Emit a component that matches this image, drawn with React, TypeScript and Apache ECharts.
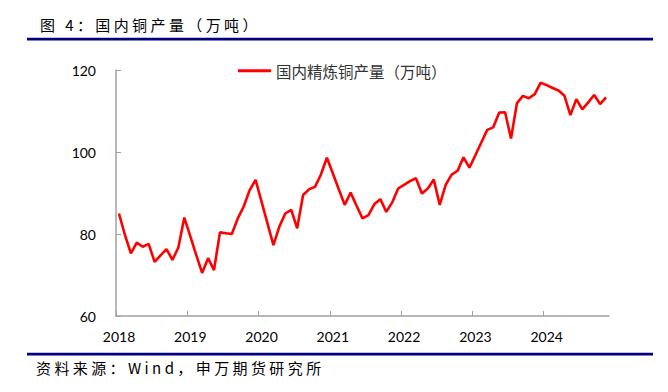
import React, { useEffect, useRef } from 'react';
import * as echarts from 'echarts';

// Monthly refined copper output, Jan 2018 – Nov 2024 (万吨)
const yearLabels = ['2018', '2019', '2020', '2021', '2022', '2023', '2024'];
const seriesName = '国内精炼铜产量（万吨）';
const production = [
  85.0, 79.8, 75.3, 77.9, 76.9, 77.6, 73.2, 74.8, 76.3, 73.7, 76.7, 84.0,
  79.5, 74.9, 70.5, 74.1, 71.2, 80.4, 80.2, 80.0, 83.8, 86.7, 90.7, 93.2,
  87.9, 82.6, 77.3, 81.8, 85.0, 85.9, 81.4, 89.5, 90.9, 91.5, 94.5, 98.6,
  94.8, 90.9, 87.1, 90.1, 86.9, 83.8, 84.6, 87.3, 88.5, 85.4, 87.7, 91.1,
  92.0, 92.9, 93.6, 89.9, 91.1, 93.3, 87.1, 92.0, 94.5, 95.4, 98.7, 96.2,
  99.2, 102.3, 105.4, 106.0, 109.6, 109.7, 103.3, 111.9, 113.7, 113.1, 114.1, 116.9,
  116.3, 115.6, 115.0, 113.7, 109.0, 112.9, 110.4, 112.1, 113.9, 111.7, 113.3,
];
const yMin = 60;
const yMax = 120;
const yStep = 20;
const titleText = '图 4：国内铜产量（万吨）';
const sourceText = '资料来源：Wind，申万期货研究所';

export default function App() {
  const ref = useRef<HTMLDivElement>(null);

  useEffect(() => {
    if (!ref.current) return;
    const chart = echarts.init(ref.current, null, { renderer: 'svg' });
    const months = 12;
    const lastMonth = production.length; // axis spans whole months
    const yearTicks = yearLabels.map((_, i) => i * months);
    chart.setOption({
      animation: false,
      backgroundColor: '#ffffff',
      grid: { left: 116, right: 59, top: 70, bottom: 76, containLabel: false },
      legend: {
        data: [seriesName],
        left: 233,
        top: 58,
        icon: 'rect',
        itemWidth: 33,
        itemHeight: 3,
        textStyle: { fontSize: 15.5, color: '#333333', fontFamily: 'Noto Sans CJK SC' },
      },
      xAxis: {
        type: 'value',
        min: 0,
        max: lastMonth,
        splitLine: { show: false },
        axisLine: { show: true, lineStyle: { color: '#a0a0a0', width: 1.5 } },
        axisTick: { show: true, inside: true, length: 5, customValues: yearTicks, lineStyle: { color: '#a0a0a0', width: 1 } },
        axisLabel: {
          customValues: yearTicks,
          formatter: (v: number) => yearLabels[Math.round(v / months)] ?? '',
          color: '#000000',
          fontSize: 14,
          fontFamily: 'Lato',
          margin: 13,
          padding: [0, 0, 0, 6],
        },
      },
      yAxis: {
        type: 'value',
        min: yMin,
        max: yMax,
        interval: yStep,
        splitLine: { show: false },
        axisLine: { show: true, lineStyle: { color: '#a0a0a0', width: 1.5 } },
        axisTick: { show: true, inside: true, length: 5, lineStyle: { color: '#a0a0a0', width: 1 } },
        axisLabel: { color: '#000000', fontSize: 14, fontFamily: 'Lato', margin: 20 },
      },
      series: [
        {
          name: seriesName,
          type: 'line',
          data: production.map((v, i) => [i + 0.5, v]),
          showSymbol: false,
          symbol: 'none',
          lineStyle: { color: '#ff0000', width: 2.6 },
          itemStyle: { color: '#ff0000' },
        },
      ],
      graphic: [
        {
          type: 'text',
          left: 40,
          top: 17,
          style: {
            text: titleText,
            fill: '#000001',
            fontSize: 15,
            fontFamily: 'Noto Sans CJK SC',
          },
        },
        { type: 'rect', shape: { x: 27, y: 37.7, width: 626, height: 2.7 }, style: { fill: '#000080' } },
        { type: 'rect', shape: { x: 27, y: 352.7, width: 626, height: 2.7 }, style: { fill: '#000080' } },
        {
          type: 'text',
          left: 36,
          top: 360,
          style: {
            text: sourceText,
            fill: '#000001',
            fontSize: 15,
            fontFamily: 'Noto Sans CJK SC',
          },
        },
      ],
    });
    return () => chart.dispose();
  }, []);

  return (
    <>
      <style>{`body{margin:0} text[fill="#000001"]{letter-spacing:3.4px}`}</style>
      <div ref={ref} style={{ position: 'absolute', left: 0, top: 0, width: 668, height: 392 }} />
    </>
  );
}
